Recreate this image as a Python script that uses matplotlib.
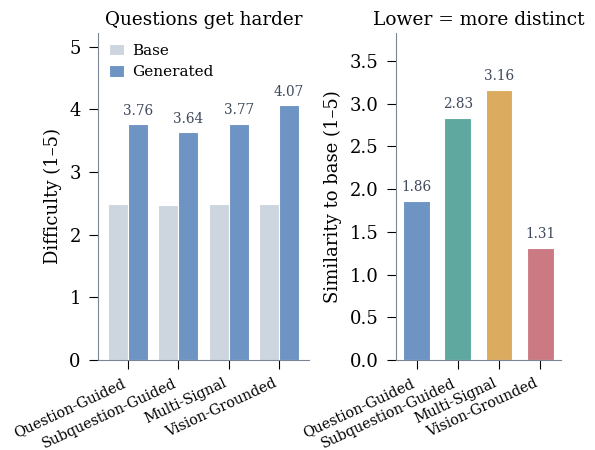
import numpy as np
import matplotlib.pyplot as plt

methods = ['Question-Guided', 'Subquestion-Guided', 'Multi-Signal', 'Vision-Grounded']
base_diff = [2.49, 2.47, 2.49, 2.49]
gen_diff = [3.76, 3.64, 3.77, 4.07]
similarity = [1.86, 2.83, 3.16, 1.31]

c_base = '#cdd5df'
c_gen = '#6d94c3'
sim_colors = ['#6d94c3', '#5ea89f', '#dbab5f', '#cb7a84']
txt_col = '#3f4a5c'
spine_col = '#7a8694'

plt.rcParams['font.family'] = 'DejaVu Serif'

fig = plt.figure(figsize=(5.95, 4.5), dpi=100)
ax1 = fig.add_axes([0.165, 0.2, 0.354, 0.727])
ax2 = fig.add_axes([0.665, 0.2, 0.278, 0.727])

x = np.arange(len(methods))
w = 0.4
ax1.bar(x - w/2, base_diff, w, color=c_base, edgecolor='white', linewidth=0.8, label='Base')
b = ax1.bar(x + w/2, gen_diff, w, color=c_gen, edgecolor='white', linewidth=0.8, label='Generated')
for rect, v in zip(b, gen_diff):
    ax1.text(rect.get_x() + rect.get_width()/2, v + 0.1, f'{v:.2f}', ha='center', va='bottom',
             fontsize=9.8, color=txt_col)
ax1.set_ylim(0, 5.22)
ax1.set_ylabel('Difficulty (1–5)', fontsize=13, labelpad=5)
ax1.set_title('Questions get harder', fontsize=13.2)
ax1.legend(loc='upper left', frameon=False, fontsize=11, handlelength=1.0, handleheight=0.8,
           handletextpad=0.5, borderaxespad=0.3)

b2 = ax2.bar(x, similarity, 0.65, color=sim_colors, edgecolor='white', linewidth=0.8)
for rect, v in zip(b2, similarity):
    ax2.text(rect.get_x() + rect.get_width()/2, v + 0.08, f'{v:.2f}', ha='center', va='bottom',
             fontsize=9.8, color=txt_col)
ax2.set_ylim(0, 3.83)
ax2.set_yticks(np.arange(0, 3.51, 0.5))
ax2.set_ylabel('Similarity to base (1–5)', fontsize=13, labelpad=5)
ax2.set_title('Lower = more distinct', fontsize=13.4)

for ax in (ax1, ax2):
    ax.set_xticks(x)
    ax.set_xticklabels(methods, rotation=25, ha='right', fontsize=10.3)
    ax.spines['top'].set_visible(False)
    ax.spines['right'].set_visible(False)
    ax.spines['left'].set_color(spine_col)
    ax.spines['bottom'].set_color(spine_col)
    ax.tick_params(axis='y', labelsize=13, length=6.5, pad=6)
    ax.tick_params(axis='x', length=6.5, pad=5)

plt.savefig('out.png', dpi=100)
